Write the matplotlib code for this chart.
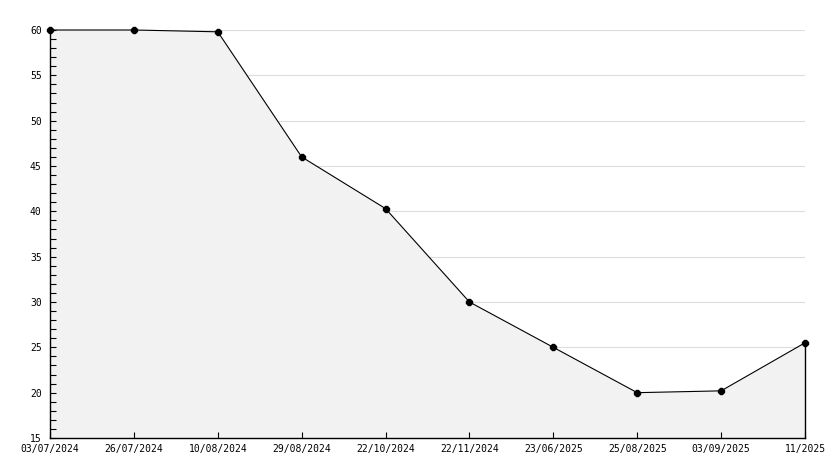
import numpy as np
import matplotlib
matplotlib.use('Agg')
import matplotlib.pyplot as plt
from matplotlib.ticker import MultipleLocator

# ---------------- data ----------------
dates = ['03/07/2024', '26/07/2024', '10/08/2024', '29/08/2024', '22/10/2024',
         '22/11/2024', '23/06/2025', '25/08/2025', '03/09/2025', '11/2025']
values = [60, 60, 59.8, 46, 40.3, 30, 25, 20, 20.2, 25.5]

ymin, ymax = 15, 60

# ---------------- plot ----------------
plt.rcParams['font.family'] = ['DejaVu Sans Mono']
fig = plt.figure(figsize=(8.34, 4.68), dpi=100)
ax = fig.add_axes([50/834, 30/468, 755/834, 408/468])

x = np.arange(len(dates))
ax.fill_between(x, values, ymin, color='#f2f2f2', lw=0, zorder=1)
ax.plot(x, values, color='black', lw=0.8, marker='8', ms=4.5, zorder=4, clip_on=False)
ax.plot([x[-1], x[-1]], [ymin, values[-1]], color='black', lw=1, zorder=3, clip_on=False)

ax.set_xlim(x[0], x[-1])
ax.set_ylim(ymin, ymax)
ax.set_xticks(x)
ax.set_xticklabels(dates)
ax.yaxis.set_major_locator(MultipleLocator(5))
ax.yaxis.set_minor_locator(MultipleLocator(1))

# grid lines behind the filled area, ticks on top
for yv in np.arange(ymin + 5, ymax + 1, 5):
    ax.axhline(yv, color='#dddddd', lw=0.8, zorder=0.5)

for s in ['top', 'right']:
    ax.spines[s].set_visible(False)
for s in ['left', 'bottom']:
    ax.spines[s].set_linewidth(1.0)
    ax.spines[s].set_zorder(5)

ax.tick_params(axis='both', which='both', direction='in', length=4, width=0.8,
               labelsize=7, colors='black')
ax.tick_params(axis='y', pad=6)
ax.tick_params(axis='x', pad=4)

fig.savefig('out.png', dpi=100)
